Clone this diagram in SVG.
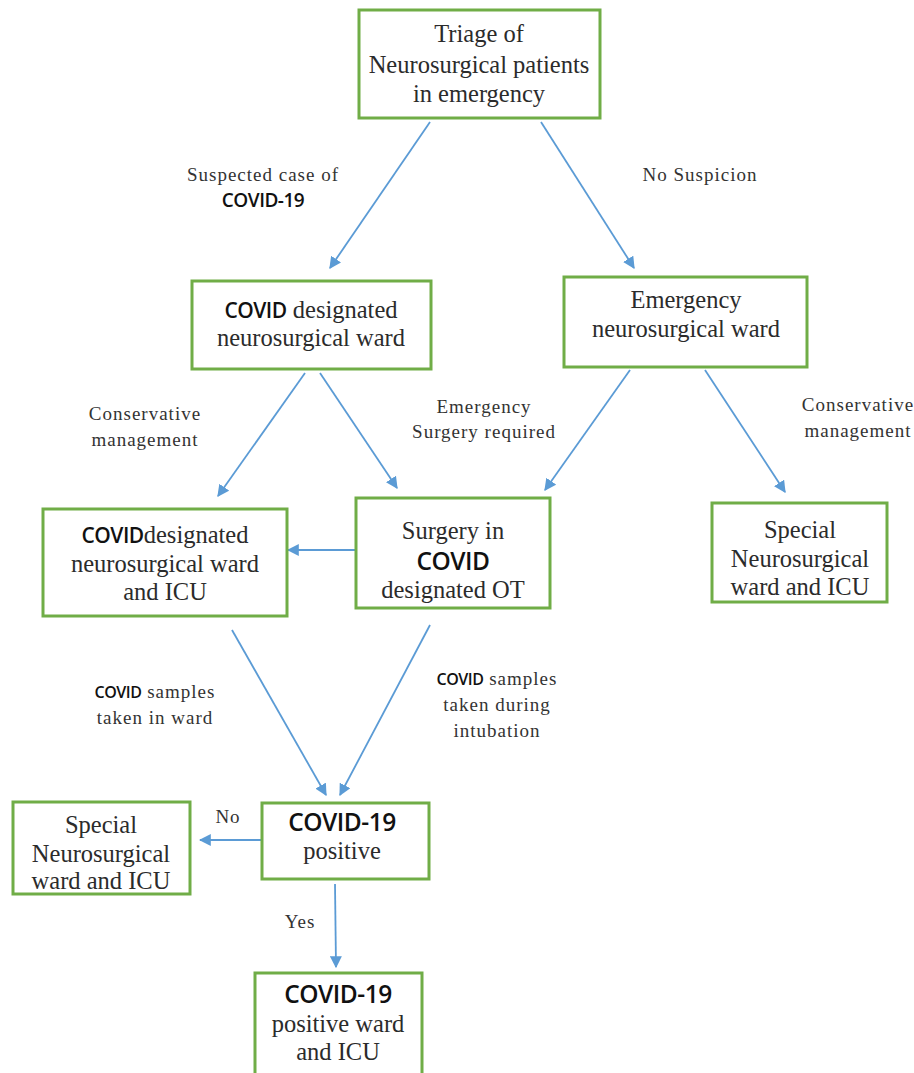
<svg xmlns="http://www.w3.org/2000/svg" width="914" height="1073" viewBox="0 0 914 1073">
<style>
.box{fill:#fff;stroke:#70ad47;stroke-width:3}
.t{font-family:"Liberation Serif","Times New Roman",serif;font-size:24.5px;fill:#2b2b2b;text-anchor:middle}
.l{font-family:"Liberation Serif","Times New Roman",serif;font-size:19px;fill:#333;text-anchor:middle;letter-spacing:1px}
.s{font-family:"Open Sans","Noto Sans",sans-serif;font-weight:600;fill:#111;letter-spacing:-0.5px}
.c{stroke:#5b9bd5;stroke-width:1.8;fill:none;marker-end:url(#ah)}
</style>
<defs>
<marker id="ah" viewBox="0 0 10 10" refX="9" refY="5" markerWidth="12" markerHeight="12" orient="auto" markerUnits="userSpaceOnUse">
<path d="M0,0 L10,5 L0,10 z" fill="#5b9bd5"/>
</marker>
</defs>
<rect width="914" height="1073" fill="#fff"/>
<g id="connectors">
<line class="c" x1="430" y1="122" x2="330" y2="268"/>
<line class="c" x1="541" y1="122" x2="634" y2="268"/>
<line class="c" x1="305" y1="373" x2="218" y2="496"/>
<line class="c" x1="320" y1="373" x2="397" y2="488"/>
<line class="c" x1="630" y1="370" x2="545" y2="490"/>
<line class="c" x1="705" y1="370" x2="785" y2="492"/>
<line class="c" x1="355" y1="550" x2="288" y2="550"/>
<line class="c" x1="232" y1="630" x2="326" y2="795"/>
<line class="c" x1="430" y1="625" x2="340" y2="795"/>
<line class="c" x1="262" y1="840" x2="200" y2="840"/>
<line class="c" x1="335" y1="884" x2="336" y2="967"/>
</g>
<g id="labels">
<text class="l" x="263" y="181">Suspected case of</text>
<text class="l s" x="263" y="207" font-size="16">COVID-19</text>
<text class="l" x="700" y="181">No Suspicion</text>
<text class="l" x="145" y="420">Conservative</text>
<text class="l" x="145" y="446">management</text>
<text class="l" x="484" y="413">Emergency</text>
<text class="l" x="484" y="438">Surgery required</text>
<text class="l" x="858" y="411">Conservative</text>
<text class="l" x="858" y="437">management</text>
<text class="l" x="155" y="698"><tspan class="s" font-size="16">COVID</tspan> samples</text>
<text class="l" x="155" y="724">taken in ward</text>
<text class="l" x="497" y="685"><tspan class="s" font-size="16">COVID</tspan> samples</text>
<text class="l" x="497" y="711">taken during</text>
<text class="l" x="497" y="737">intubation</text>
<text class="l" x="228" y="823">No</text>
<text class="l" x="300" y="928">Yes</text>
</g>
<g id="n-triage">
<rect class="box" x="359" y="10" width="241" height="108"/>
<text class="t" x="479" y="42">Triage of</text>
<text class="t" x="479" y="73">Neurosurgical patients</text>
<text class="t" x="479" y="102">in emergency</text>
</g>
<g id="n-covid-ward">
<rect class="box" x="192" y="281" width="239" height="88"/>
<text class="t" x="311" y="318"><tspan class="s" font-size="21">COVID</tspan> designated</text>
<text class="t" x="311" y="346">neurosurgical ward</text>
</g>
<g id="n-emergency-ward">
<rect class="box" x="564" y="277" width="243" height="90"/>
<text class="t" x="686" y="308">Emergency</text>
<text class="t" x="686" y="337">neurosurgical ward</text>
</g>
<g id="n-covid-ward-icu">
<rect class="box" x="43" y="509" width="244" height="107"/>
<text class="t" x="165" y="543"><tspan class="s" font-size="21">COVID</tspan>designated</text>
<text class="t" x="165" y="572">neurosurgical ward</text>
<text class="t" x="165" y="600">and ICU</text>
</g>
<g id="n-surgery">
<rect class="box" x="356" y="498" width="194" height="110"/>
<text class="t" x="453" y="539">Surgery in</text>
<text class="t s" x="453" y="570" font-size="21">COVID</text>
<text class="t" x="453" y="598">designated OT</text>
</g>
<g id="n-special-right">
<rect class="box" x="712" y="503" width="175" height="99"/>
<text class="t" x="800" y="538">Special</text>
<text class="t" x="800" y="567">Neurosurgical</text>
<text class="t" x="800" y="595">ward and ICU</text>
</g>
<g id="n-positive">
<rect class="box" x="262" y="803" width="167" height="76"/>
<text class="t s" x="342" y="831" font-size="21">COVID-19</text>
<text class="t" x="342" y="859">positive</text>
</g>
<g id="n-special-left">
<rect class="box" x="13" y="802" width="177" height="92"/>
<text class="t" x="101" y="833">Special</text>
<text class="t" x="101" y="862">Neurosurgical</text>
<text class="t" x="101" y="889">ward and ICU</text>
</g>
<g id="n-positive-ward">
<rect class="box" x="255" y="973" width="167" height="110"/>
<text class="t s" x="338" y="1003" font-size="21">COVID-19</text>
<text class="t" x="338" y="1032">positive ward</text>
<text class="t" x="338" y="1060">and ICU</text>
</g>
</svg>
